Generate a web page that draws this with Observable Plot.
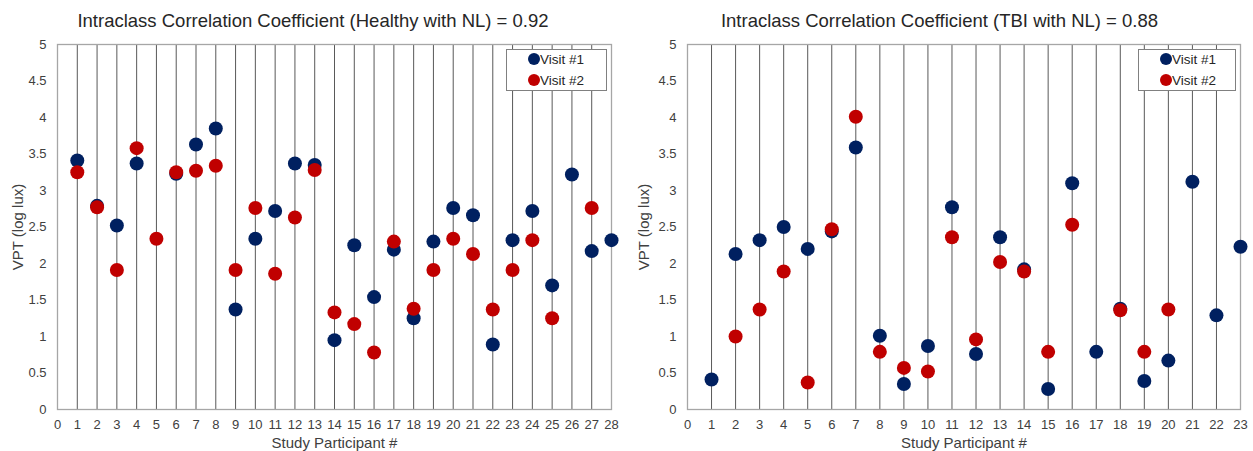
<!DOCTYPE html>
<html>
<head>
<meta charset="utf-8">
<script src="https://cdn.jsdelivr.net/npm/d3@7"></script>
<script src="https://cdn.jsdelivr.net/npm/@observablehq/plot@0.6"></script>
<style>
  html, body { margin: 0; padding: 0; background: #fff; }
  #wrap { position: relative; width: 1253px; height: 451px; overflow: hidden; font-family: "Liberation Sans", Arial, sans-serif; }
  .panel { position: absolute; top: 0; height: 451px; }
  .title { position: absolute; top: 0; left: 0; right: 0; height: 35px; line-height: 41px; text-align: center; font-size: 18.5px; color: #262626; white-space: nowrap; }
  .chart { position: absolute; top: 35px; left: 0; }
  .legend { position: absolute; top: 49px; height: 40px; border: 1px solid #808080; background: #fff; font-size: 13.5px; color: #262626; }
  .legend .row { position: absolute; left: 21px; height: 20px; line-height: 20px; white-space: nowrap; }
  .legend .sw { display: inline-block; width: 12px; height: 12px; border-radius: 50%; vertical-align: -1px; margin-right: 0px; }
</style>
</head>
<body>
<div id="wrap"></div>
<script>
// ---------- data ----------
const seriesNames = ["Visit #1", "Visit #2"];
const seriesColors = ["#002060", "#C00000"];

const healthyTitle = "Intraclass Correlation Coefficient (Healthy with NL) = 0.92";
const healthyParticipants = d3.range(1, 29);
const healthyVisit1 = [3.41, 2.79, 2.52, 3.37, null, 3.23, 3.63, 3.85, 1.37, 2.34, 2.72, 3.37, 3.35, 0.95, 2.25, 1.54, 2.19, 1.25, 2.30, 2.76, 2.66, 0.89, 2.32, 2.72, 1.70, 3.22, 2.17, 2.32];
const healthyVisit2 = [3.25, 2.77, 1.91, 3.58, 2.34, 3.25, 3.27, 3.34, 1.91, 2.76, 1.86, 2.63, 3.28, 1.33, 1.17, 0.78, 2.30, 1.38, 1.91, 2.34, 2.13, 1.37, 1.91, 2.32, 1.25, null, 2.76, null];

const tbiTitle = "Intraclass Correlation Coefficient (TBI with NL) = 0.88";
const tbiParticipants = d3.range(1, 24);
const tbiVisit1 = [0.41, 2.13, 2.32, 2.50, 2.20, 2.44, 3.59, 1.01, 0.35, 0.87, 2.77, 0.76, 2.36, 1.92, 0.28, 3.10, 0.79, 1.38, 0.39, 0.67, 3.12, 1.29, 2.23];
const tbiVisit2 = [null, 1.00, 1.37, 1.89, 0.37, 2.47, 4.01, 0.79, 0.57, 0.52, 2.36, 0.96, 2.02, 1.89, 0.79, 2.53, null, 1.36, 0.79, 1.37, null, null, null];

const yTicks = [0, 0.5, 1, 1.5, 2, 2.5, 3, 3.5, 4, 4.5, 5];
const yLabel = "VPT (log lux)";
const xLabel = "Study Participant #";

// ---------- drawing ----------
function toRows(participants, v1, v2) {
  const rows = [];
  participants.forEach((p, i) => { if (v1[i] != null) rows.push({p, v: v1[i], s: seriesNames[0]}); });
  participants.forEach((p, i) => { if (v2[i] != null) rows.push({p, v: v2[i], s: seriesNames[1]}); });
  return rows;
}

function panel(opts) {
  const wrap = document.getElementById("wrap");
  const div = document.createElement("div");
  div.className = "panel";
  div.style.left = opts.left + "px";
  div.style.width = opts.width + "px";
  const t = document.createElement("div");
  t.className = "title";
  t.textContent = opts.title;
  div.appendChild(t);

  const n = opts.participants.length;
  const xTicks = d3.range(0, n + 1);
  const rows = toRows(opts.participants, opts.v1, opts.v2);

  const chart = Plot.plot({
    width: opts.width,
    height: 416,
    marginTop: 9,
    marginBottom: 42,
    marginLeft: opts.ml,
    marginRight: opts.mr,
    style: { fontFamily: "Liberation Sans, Arial, sans-serif", fontSize: "13px", color: "#404040", background: "#fff" },
    x: { domain: [0, n] },
    y: { domain: [0, 5] },
    color: { domain: seriesNames, range: seriesColors },
    marks: [
      Plot.gridX(xTicks.slice(1), { stroke: "#595959", strokeOpacity: 1, strokeWidth: 1 }),
      Plot.frame({ stroke: "#a6a6a6", strokeWidth: 1.3 }),
      Plot.axisY(yTicks, { tickSize: 0, tickPadding: 11, tickFormat: d => String(d), label: yLabel, labelAnchor: "center", labelArrow: "none", labelOffset: opts.ml - 12 }),
      Plot.axisX(xTicks, { tickSize: 0, tickPadding: 10, tickFormat: d => String(d), label: xLabel, labelAnchor: "center", labelArrow: "none", labelOffset: 38 }),
      Plot.dot(rows, { x: "p", y: "v", fill: "s", r: 7, stroke: "none" })
    ]
  });
  chart.querySelectorAll("g[aria-label]").forEach(g => {
    const a = g.getAttribute("aria-label");
    if (/tick label/.test(a)) {
      g.setAttribute("font-size", "13");
      g.querySelectorAll("text").forEach(el => el.style.setProperty("font-size", "13px", "important"));
    } else if (/axis label/.test(a)) {
      g.setAttribute("font-size", "15");
      g.querySelectorAll("text").forEach(el => el.style.setProperty("font-size", "15px", "important"));
    }
  });
  chart.querySelectorAll("text").forEach(el => el.setAttribute("fill", "#404040"));
  const c = document.createElement("div");
  c.className = "chart";
  c.appendChild(chart);
  div.appendChild(c);

  const lg = document.createElement("div");
  lg.className = "legend";
  lg.style.left = opts.legendLeft + "px";
  lg.style.width = opts.legendWidth + "px";
  seriesNames.forEach((s, i) => {
    const r = document.createElement("div");
    r.className = "row";
    r.style.top = (i === 0 ? 0 : 21) + "px";
    const sw = document.createElement("span");
    sw.className = "sw";
    sw.style.background = seriesColors[i];
    r.appendChild(sw);
    r.appendChild(document.createTextNode(s));
    lg.appendChild(r);
  });
  div.appendChild(lg);
  wrap.appendChild(div);
}

panel({ left: 0, width: 626, ml: 57, mr: 15, title: healthyTitle, participants: healthyParticipants, v1: healthyVisit1, v2: healthyVisit2, legendLeft: 506, legendWidth: 99 });
panel({ left: 626, width: 627, ml: 61, mr: 13, title: tbiTitle, participants: tbiParticipants, v1: tbiVisit1, v2: tbiVisit2, legendLeft: 512, legendWidth: 96 });
</script>
</body>
</html>
